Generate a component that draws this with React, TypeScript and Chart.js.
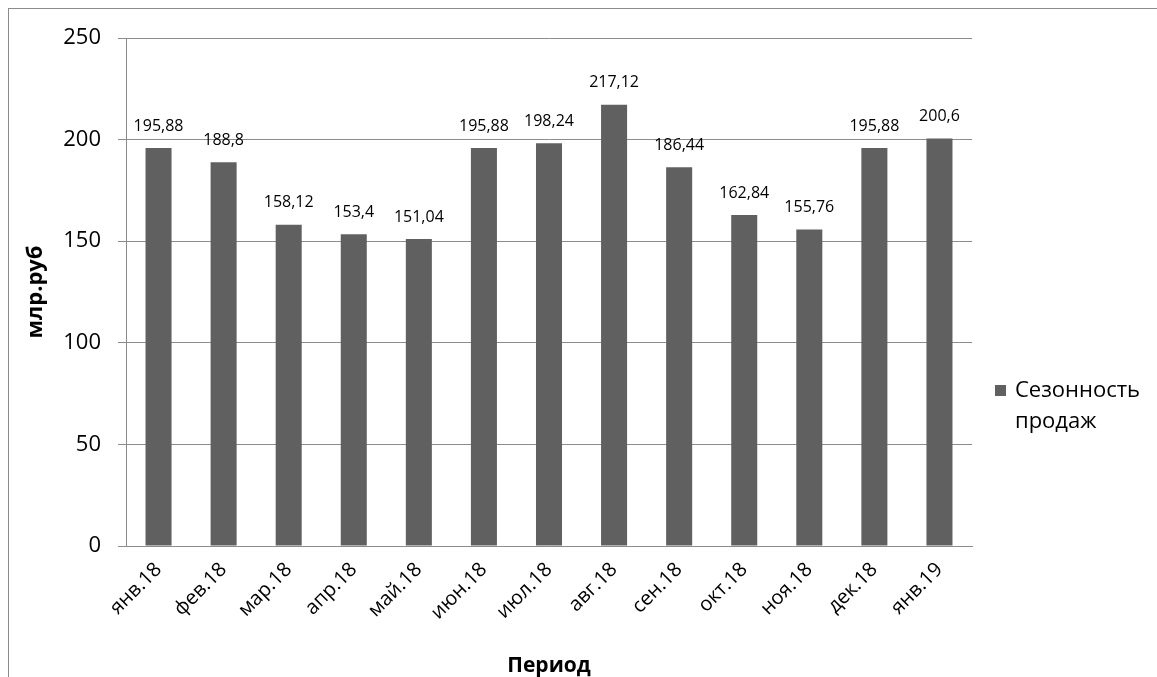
import React, { useEffect, useRef } from "react";
import { Chart, registerables } from "chart.js";

Chart.register(...registerables);

const categories = ["янв.18", "фев.18", "мар.18", "апр.18", "май.18", "июн.18", "июл.18", "авг.18", "сен.18", "окт.18", "ноя.18", "дек.18", "янв.19"];
const salesValues = [195.88, 188.8, 158.12, 153.4, 151.04, 195.88, 198.24, 217.12, 186.44, 162.84, 155.76, 195.88, 200.6];
const seriesName = ["Сезонность", "продаж"];
const yTicks = [0, 50, 100, 150, 200, 250];

const FONT = "'Open Sans', 'Noto Sans', sans-serif";
const BAR = "#606060";
const GRID = "#8c8c8c";

const dataLabelPlugin = {
  id: "dataLabels",
  afterDatasetsDraw(chart: any) {
    const ctx = chart.ctx;
    const meta = chart.getDatasetMeta(0);
    ctx.save();
    ctx.font = `16px ${FONT}`;
    ctx.fillStyle = "#000";
    ctx.textAlign = "center";
    ctx.textBaseline = "middle";
    meta.data.forEach((bar: any, i: number) => {
      const txt = String(salesValues[i]).replace(".", ",");
      ctx.fillText(txt, bar.x, bar.y - 22);
    });
    ctx.restore();
  },
};

const legendPlugin = {
  id: "customLegend",
  afterDraw(chart: any) {
    const ctx = chart.ctx;
    const x = chart.chartArea.right + 23;
    ctx.save();
    ctx.fillStyle = BAR;
    ctx.fillRect(x, 385, 11, 11);
    ctx.fillStyle = "#000";
    ctx.font = `22px ${FONT}`;
    ctx.textAlign = "left";
    ctx.textBaseline = "middle";
    seriesName.forEach((line, i) => {
      ctx.fillText(line, x + 20, 391 + i * 31);
    });
    ctx.restore();
  },
};

export default function App() {
  const ref = useRef<HTMLCanvasElement>(null);
  useEffect(() => {
    const chart = new Chart(ref.current!, {
      type: "bar",
      data: {
        labels: categories,
        datasets: [
          {
            label: seriesName.join(" "),
            data: salesValues,
            backgroundColor: BAR,
            barPercentage: 0.4,
            categoryPercentage: 1,
          },
        ],
      },
      options: {
        animation: false,
        responsive: false,
        layout: { padding: { top: 38, right: 185, bottom: 0, left: 0 } },
        plugins: { legend: { display: false }, tooltip: { enabled: false } },
        scales: {
          x: {
            grid: { display: false, drawTicks: false },
            border: { color: GRID, width: 1 },
            ticks: {
              color: "#000",
              font: { family: FONT, size: 20 },
              maxRotation: 45,
              minRotation: 45,
              padding: 12,
              autoSkip: false,
            },
            title: {
              display: true,
              text: "Период",
              color: "#000",
              font: { family: FONT, size: 21, weight: "bold" },
              padding: { top: 0, bottom: 6 },
            },
            afterFit(scale: any) {
              scale.height = 139;
            },
          },
          y: {
            min: 0,
            max: 250,
            afterBuildTicks(scale: any) {
              scale.ticks = yTicks.map((v) => ({ value: v }));
            },
            grid: { color: GRID, tickLength: 8, tickColor: GRID },
            border: { color: GRID, width: 1 },
            ticks: {
              color: "#000",
              font: { family: FONT, size: 22 },
              padding: 17,
            },
            title: {
              display: true,
              text: "млр.руб",
              color: "#000",
              font: { family: FONT, size: 22, weight: "bold" },
              padding: { top: 23, bottom: 0 },
            },
            afterFit(scale: any) {
              scale.width = 126;
            },
          },
        },
      },
      plugins: [dataLabelPlugin, legendPlugin],
    });
    return () => chart.destroy();
  }, []);

  return (
    <div style={{ position: "fixed", left: 0, top: 0, width: 1157, height: 677, overflow: "hidden", background: "#fff" }}>
      <div style={{ position: "absolute", left: 8, top: 8, width: 1300, height: 800, border: "1px solid #8c8c8c" }} />
      <canvas ref={ref} width={1157} height={685} style={{ position: "absolute", left: 0, top: 0 }} />
    </div>
  );
}
